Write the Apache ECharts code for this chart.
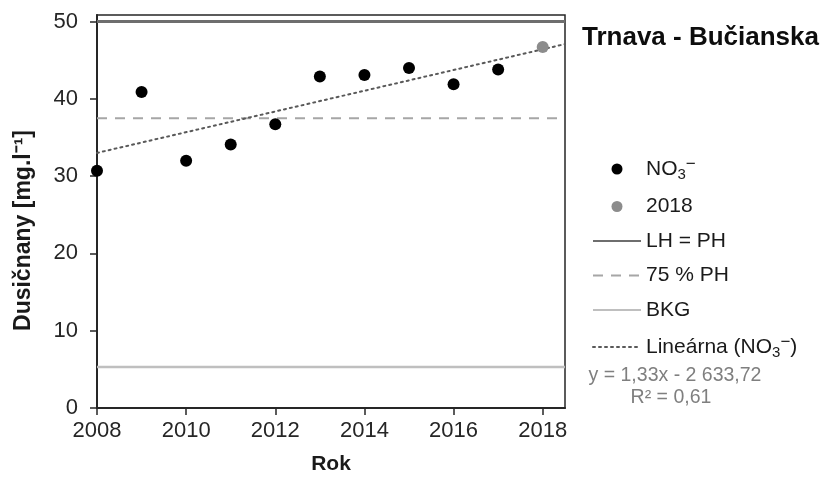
<!DOCTYPE html>
<html>
<head>
<meta charset="utf-8">
<title>Trnava - Bučianska</title>
<script src="https://cdn.jsdelivr.net/npm/echarts@6/dist/echarts.min.js"></script>
<style>
  html, body { margin: 0; padding: 0; background: #fff; }
  #chart { width: 830px; height: 480px; }
</style>
</head>
<body>
<div id="chart"></div>
<script>
// roky a namerane hodnoty dusicnanov
var years = [2008, 2009, 2010, 2011, 2012, 2013, 2014, 2015, 2016, 2017];
var no3 = [30.7, 40.9, 32.0, 34.1, 36.7, 42.9, 43.1, 44.0, 41.9, 43.8];
var lastYear = [2018];
var lastValue = [46.7];

// limity
var limitPH = 50;      // LH = PH
var limit75 = 37.5;    // 75 % PH
var bkg = 5.3;         // BKG

var yTicks = [0, 10, 20, 30, 40, 50];
var xTicks = [2008, 2010, 2012, 2014, 2016, 2018];
var xMin = 2008, xMax = 2018.5;
var yMin = 0, yMax = 50.85;

var fontFam = '"Liberation Sans", Arial, sans-serif';

function pairs(xs, ys) {
    var out = [];
    for (var i = 0; i < xs.length; i++) out.push([xs[i], ys[i]]);
    return out;
}

// linearny trend (ako v Exceli) zo vsetkych bodov
function trendLine() {
    var xs = years.concat(lastYear), ys = no3.concat(lastValue);
    var n = xs.length, sx = 0, sy = 0, sxy = 0, sxx = 0;
    for (var i = 0; i < n; i++) {
        sx += xs[i]; sy += ys[i]; sxy += xs[i] * ys[i]; sxx += xs[i] * xs[i];
    }
    var b = (n * sxy - sx * sy) / (n * sxx - sx * sx);
    var a = (sy - b * sx) / n;
    return [[xMin, a + b * xMin], [xMax, a + b * xMax]];
}

var richNO3 = {
    sub: { fontSize: 15, padding: [12, 0, 0, 0], fontFamily: fontFam, color: '#1a1a1a' },
    sup: { fontSize: 17, padding: [0, 0, 9, 0], fontFamily: fontFam, color: '#1a1a1a' }
};
// ciara v legende bez symbolu
var noDot = { opacity: 0 };

var myChart = echarts.init(document.getElementById('chart'));
var option = {
    backgroundColor: '#fff',
    animation: false,
    textStyle: { fontFamily: fontFam },
    title: {
        text: 'Trnava - Bučianska',
        left: 577,
        top: 20,
        textStyle: { fontSize: 26, fontWeight: 'bold', color: '#0d0d0d', fontFamily: fontFam }
    },
    grid: {
        left: 97, right: 265, top: 15, bottom: 69,
        show: true, borderColor: '#262626', borderWidth: 1.5,
        containLabel: false
    },
    legend: {
        orient: 'vertical',
        left: 587,
        top: 151,
        itemWidth: 48,
        itemHeight: 11,
        itemGap: 13.5,
        selectedMode: false,
        textStyle: { fontSize: 21, color: '#1a1a1a', fontFamily: fontFam, rich: richNO3 },
        formatter: function (name) {
            if (name === 'NO3') return 'NO{sub|3}{sup|−}';
            if (name === 'Lin') return 'Lineárna (NO{sub|3}{sup|−})';
            return name;
        },
        data: [
            { name: 'NO3' },
            { name: '2018' },
            { name: 'LH = PH', itemStyle: noDot },
            { name: '75 % PH', itemStyle: noDot },
            { name: 'BKG', itemStyle: noDot },
            { name: 'Lin', itemStyle: noDot }
        ]
    },
    xAxis: {
        type: 'value',
        min: xMin, max: xMax,
        name: 'Rok',
        nameLocation: 'middle',
        nameGap: 46,
        nameTextStyle: { fontSize: 21, fontWeight: 'bold', color: '#1a1a1a' },
        axisLine: { show: true, lineStyle: { color: '#262626', width: 2 } },
        axisTick: { show: true, length: 7, customValues: xTicks, lineStyle: { color: '#262626', width: 1.5 } },
        axisLabel: {
            customValues: xTicks, fontSize: 22, color: '#262626', margin: 12,
            formatter: function (v) { return String(v); }
        },
        splitLine: { show: false }
    },
    yAxis: {
        type: 'value',
        min: yMin, max: yMax,
        name: 'Dusičnany [mg.l⁻¹]',
        nameLocation: 'middle',
        nameGap: 62,
        nameTextStyle: { fontSize: 23, fontWeight: 'bold', color: '#1a1a1a', padding: [0, 38, 0, 0] },
        axisLine: { show: true, lineStyle: { color: '#262626', width: 2 } },
        axisTick: { show: true, length: 7, customValues: yTicks, lineStyle: { color: '#262626', width: 1.5 } },
        axisLabel: { customValues: yTicks, fontSize: 22, color: '#262626', margin: 19 },
        splitLine: { show: false }
    },
    graphic: [
        {
            type: 'text', x: 675, y: 366,
            style: { text: 'y = 1,33x - 2 633,72', fontSize: 19.5, fill: '#7f7f7f', fontFamily: fontFam, align: 'center' }
        },
        {
            type: 'text', x: 671, y: 388,
            style: { text: 'R² = 0,61', fontSize: 19.5, fill: '#7f7f7f', fontFamily: fontFam, align: 'center' }
        }
    ],
    series: [
        {
            name: 'BKG', type: 'line', symbol: 'none', silent: true,
            data: [[xMin, bkg], [xMax, bkg]],
            lineStyle: { color: '#bfbfbf', width: 2.5 }, itemStyle: { color: '#bfbfbf' }
        },
        {
            name: '75 % PH', type: 'line', symbol: 'none', silent: true,
            data: [[xMin, limit75], [xMax, limit75]],
            lineStyle: { color: '#a6a6a6', width: 2, type: [10, 8] }, itemStyle: { color: '#a6a6a6' }
        },
        {
            name: 'LH = PH', type: 'line', symbol: 'none', silent: true,
            data: [[xMin, limitPH], [xMax, limitPH]],
            lineStyle: { color: '#6e6e6e', width: 3 }, itemStyle: { color: '#6e6e6e' }
        },
        {
            name: 'Lin', type: 'line', symbol: 'none', silent: true,
            data: trendLine(),
            lineStyle: { color: '#595959', width: 2, type: [2, 4], cap: 'round' }, itemStyle: { color: '#595959' }
        },
        {
            name: 'NO3', type: 'scatter', symbol: 'circle', symbolSize: 12,
            data: pairs(years, no3),
            itemStyle: { color: '#000', opacity: 1 }, z: 5
        },
        {
            name: '2018', type: 'scatter', symbol: 'circle', symbolSize: 12,
            data: pairs(lastYear, lastValue),
            itemStyle: { color: '#8c8c8c', opacity: 1 }, z: 5
        }
    ]
};
myChart.setOption(option);
</script>
</body>
</html>
